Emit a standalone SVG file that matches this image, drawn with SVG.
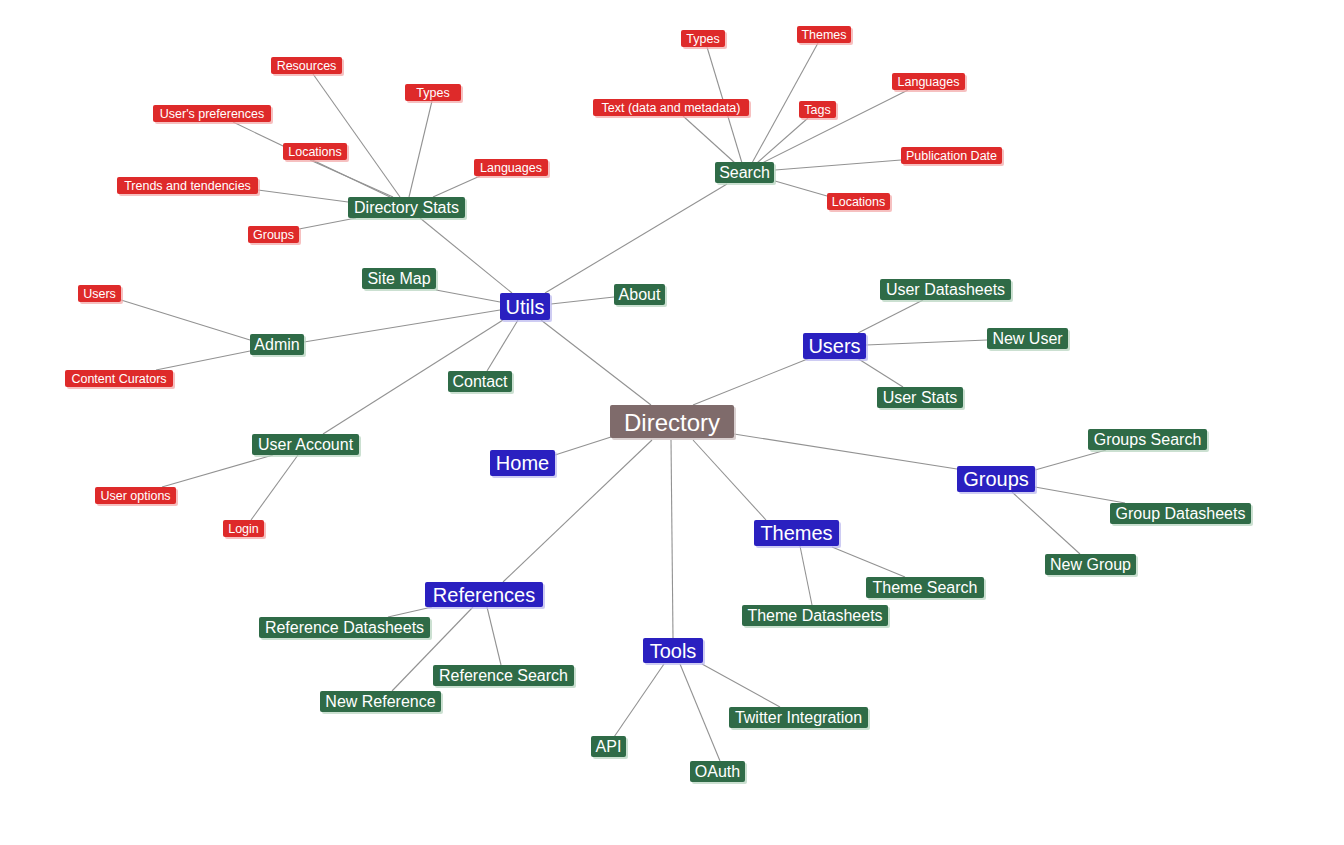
<svg xmlns="http://www.w3.org/2000/svg" width="1344" height="845" viewBox="0 0 1344 845">
<style>
text{font-family:"Liberation Sans",Arial,sans-serif;fill:#fff;text-anchor:middle;dominant-baseline:central}
.sh{opacity:.7}
.root rect.b{fill:#7f6b6b}.root rect.sh{fill:#c9bcbc}.root text{font-size:24px}
.l1 rect.b{fill:#2a20c0}.l1 rect.sh{fill:#b9b6ee}.l1 text{font-size:20px}
.l2 rect.b{fill:#2f6b47}.l2 rect.sh{fill:#b5d3bd}.l2 text{font-size:16px}
.l3 rect.b{fill:#de2a2a}.l3 rect.sh{fill:#f2a5a5}.l3 text{font-size:12.5px}
#connectors line{stroke:#929292;stroke-width:1.1}
</style>
<rect width="1344" height="845" fill="#fff"/>
<g id="connectors">
<line x1="651" y1="405" x2="541" y2="320"/>
<line x1="693" y1="405" x2="810" y2="358"/>
<line x1="611" y1="437" x2="555" y2="455"/>
<line x1="734" y1="434" x2="957" y2="469"/>
<line x1="693" y1="440" x2="766" y2="520"/>
<line x1="671" y1="440" x2="673" y2="638"/>
<line x1="652" y1="440" x2="503" y2="582"/>
<line x1="420" y1="218" x2="512" y2="293"/>
<line x1="727" y1="184" x2="545" y2="293"/>
<line x1="436" y1="290" x2="500" y2="302"/>
<line x1="551" y1="304" x2="614" y2="297"/>
<line x1="304" y1="342" x2="500" y2="310"/>
<line x1="323" y1="434" x2="503" y2="320"/>
<line x1="487" y1="371" x2="518" y2="320"/>
<line x1="313" y1="74" x2="400" y2="197"/>
<line x1="432" y1="101" x2="409" y2="197"/>
<line x1="233" y1="122" x2="390" y2="197"/>
<line x1="310" y1="160" x2="393" y2="197"/>
<line x1="258" y1="190" x2="348" y2="202"/>
<line x1="299" y1="229" x2="356" y2="218"/>
<line x1="480" y1="176" x2="433" y2="197"/>
<line x1="121" y1="300" x2="250" y2="340"/>
<line x1="156" y1="370" x2="250" y2="351"/>
<line x1="162" y1="487" x2="273" y2="455"/>
<line x1="251" y1="520" x2="298" y2="455"/>
<line x1="707" y1="47" x2="742" y2="163"/>
<line x1="818" y1="43" x2="752" y2="163"/>
<line x1="683" y1="116" x2="735" y2="163"/>
<line x1="808" y1="118" x2="757" y2="163"/>
<line x1="908" y1="90" x2="762" y2="163"/>
<line x1="901" y1="160" x2="775" y2="170"/>
<line x1="827" y1="196" x2="775" y2="181"/>
<line x1="923" y1="300" x2="858" y2="333"/>
<line x1="987" y1="340" x2="866" y2="345"/>
<line x1="903" y1="387" x2="857" y2="358"/>
<line x1="1106" y1="450" x2="1035" y2="470"/>
<line x1="1125" y1="503" x2="1035" y2="487"/>
<line x1="1080" y1="554" x2="1012" y2="492"/>
<line x1="905" y1="577" x2="832" y2="547"/>
<line x1="812" y1="605" x2="800" y2="546"/>
<line x1="388" y1="617" x2="432" y2="607"/>
<line x1="392" y1="691" x2="473" y2="607"/>
<line x1="501" y1="665" x2="487" y2="607"/>
<line x1="614" y1="737" x2="664" y2="664"/>
<line x1="720" y1="761" x2="680" y2="664"/>
<line x1="780" y1="707" x2="702" y2="664"/>
</g>

<g id="directory" class="root"><rect class="sh" x="612" y="407" width="124" height="33" rx="2"/><rect class="b" x="610" y="405" width="124" height="33" rx="2"/><text x="672" y="422">Directory</text></g>

<g id="utils" class="l1"><rect class="sh" x="502" y="295" width="50" height="27" rx="2"/><rect class="b" x="500" y="293" width="50" height="27" rx="2"/><text x="525" y="306.5">Utils</text></g>
<g id="users" class="l1"><rect class="sh" x="805" y="335" width="63" height="26" rx="2"/><rect class="b" x="803" y="333" width="63" height="26" rx="2"/><text x="834.5" y="346">Users</text></g>
<g id="home" class="l1"><rect class="sh" x="492" y="452" width="65" height="26" rx="2"/><rect class="b" x="490" y="450" width="65" height="26" rx="2"/><text x="522.5" y="463">Home</text></g>
<g id="groups" class="l1"><rect class="sh" x="959" y="468" width="78" height="26" rx="2"/><rect class="b" x="957" y="466" width="78" height="26" rx="2"/><text x="996" y="479">Groups</text></g>
<g id="themes" class="l1"><rect class="sh" x="756" y="522" width="85" height="26" rx="2"/><rect class="b" x="754" y="520" width="85" height="26" rx="2"/><text x="796.5" y="533">Themes</text></g>
<g id="references" class="l1"><rect class="sh" x="427" y="584" width="118" height="25" rx="2"/><rect class="b" x="425" y="582" width="118" height="25" rx="2"/><text x="484" y="594.5">References</text></g>
<g id="tools" class="l1"><rect class="sh" x="645" y="640" width="60" height="25" rx="2"/><rect class="b" x="643" y="638" width="60" height="25" rx="2"/><text x="673" y="650.5">Tools</text></g>

<g id="directory-stats" class="l2"><rect class="sh" x="350" y="199" width="117" height="21" rx="2"/><rect class="b" x="348" y="197" width="117" height="21" rx="2"/><text x="406.5" y="207.5">Directory Stats</text></g>
<g id="search" class="l2"><rect class="sh" x="717" y="164" width="59" height="21" rx="2"/><rect class="b" x="715" y="162" width="59" height="21" rx="2"/><text x="744.5" y="172.5">Search</text></g>
<g id="site-map" class="l2"><rect class="sh" x="364" y="270" width="74" height="21" rx="2"/><rect class="b" x="362" y="268" width="74" height="21" rx="2"/><text x="399" y="278.5">Site Map</text></g>
<g id="about" class="l2"><rect class="sh" x="616" y="286" width="51" height="21" rx="2"/><rect class="b" x="614" y="284" width="51" height="21" rx="2"/><text x="639.5" y="294.5">About</text></g>
<g id="admin" class="l2"><rect class="sh" x="252" y="336" width="54" height="21" rx="2"/><rect class="b" x="250" y="334" width="54" height="21" rx="2"/><text x="277" y="344.5">Admin</text></g>
<g id="contact" class="l2"><rect class="sh" x="450" y="373" width="64" height="21" rx="2"/><rect class="b" x="448" y="371" width="64" height="21" rx="2"/><text x="480" y="381.5">Contact</text></g>
<g id="user-account" class="l2"><rect class="sh" x="254" y="436" width="107" height="21" rx="2"/><rect class="b" x="252" y="434" width="107" height="21" rx="2"/><text x="305.5" y="444.5">User Account</text></g>
<g id="user-datasheets" class="l2"><rect class="sh" x="882" y="281" width="131" height="21" rx="2"/><rect class="b" x="880" y="279" width="131" height="21" rx="2"/><text x="945.5" y="289.5">User Datasheets</text></g>
<g id="new-user" class="l2"><rect class="sh" x="989" y="330" width="81" height="21" rx="2"/><rect class="b" x="987" y="328" width="81" height="21" rx="2"/><text x="1027.5" y="338.5">New User</text></g>
<g id="user-stats" class="l2"><rect class="sh" x="879" y="389" width="86" height="21" rx="2"/><rect class="b" x="877" y="387" width="86" height="21" rx="2"/><text x="920" y="397.5">User Stats</text></g>
<g id="groups-search" class="l2"><rect class="sh" x="1090" y="431" width="119" height="21" rx="2"/><rect class="b" x="1088" y="429" width="119" height="21" rx="2"/><text x="1147.5" y="439.5">Groups Search</text></g>
<g id="group-datasheets" class="l2"><rect class="sh" x="1112" y="505" width="141" height="21" rx="2"/><rect class="b" x="1110" y="503" width="141" height="21" rx="2"/><text x="1180.5" y="513.5">Group Datasheets</text></g>
<g id="new-group" class="l2"><rect class="sh" x="1047" y="556" width="91" height="21" rx="2"/><rect class="b" x="1045" y="554" width="91" height="21" rx="2"/><text x="1090.5" y="564.5">New Group</text></g>
<g id="theme-search" class="l2"><rect class="sh" x="868" y="579" width="118" height="21" rx="2"/><rect class="b" x="866" y="577" width="118" height="21" rx="2"/><text x="925" y="587.5">Theme Search</text></g>
<g id="theme-datasheets" class="l2"><rect class="sh" x="744" y="607" width="146" height="21" rx="2"/><rect class="b" x="742" y="605" width="146" height="21" rx="2"/><text x="815" y="615.5">Theme Datasheets</text></g>
<g id="reference-datasheets" class="l2"><rect class="sh" x="261" y="619" width="171" height="21" rx="2"/><rect class="b" x="259" y="617" width="171" height="21" rx="2"/><text x="344.5" y="627.5">Reference Datasheets</text></g>
<g id="reference-search" class="l2"><rect class="sh" x="435" y="667" width="141" height="21" rx="2"/><rect class="b" x="433" y="665" width="141" height="21" rx="2"/><text x="503.5" y="675.5">Reference Search</text></g>
<g id="new-reference" class="l2"><rect class="sh" x="322" y="693" width="121" height="21" rx="2"/><rect class="b" x="320" y="691" width="121" height="21" rx="2"/><text x="380.5" y="701.5">New Reference</text></g>
<g id="twitter-integration" class="l2"><rect class="sh" x="731" y="709" width="139" height="21" rx="2"/><rect class="b" x="729" y="707" width="139" height="21" rx="2"/><text x="798.5" y="717.5">Twitter Integration</text></g>
<g id="api" class="l2"><rect class="sh" x="593" y="738" width="35" height="21" rx="2"/><rect class="b" x="591" y="736" width="35" height="21" rx="2"/><text x="608.5" y="746.5">API</text></g>
<g id="oauth" class="l2"><rect class="sh" x="692" y="763" width="55" height="21" rx="2"/><rect class="b" x="690" y="761" width="55" height="21" rx="2"/><text x="717.5" y="771.5">OAuth</text></g>

<g id="resources" class="l3"><rect class="sh" x="273" y="59" width="71" height="17" rx="2"/><rect class="b" x="271" y="57" width="71" height="17" rx="2"/><text x="306.5" y="65.5">Resources</text></g>
<g id="stats-types" class="l3"><rect class="sh" x="407" y="86" width="56" height="17" rx="2"/><rect class="b" x="405" y="84" width="56" height="17" rx="2"/><text x="433" y="92.5">Types</text></g>
<g id="users-preferences" class="l3"><rect class="sh" x="155" y="107" width="118" height="17" rx="2"/><rect class="b" x="153" y="105" width="118" height="17" rx="2"/><text x="212" y="113.5">User's preferences</text></g>
<g id="stats-locations" class="l3"><rect class="sh" x="285" y="145" width="64" height="17" rx="2"/><rect class="b" x="283" y="143" width="64" height="17" rx="2"/><text x="315" y="151.5">Locations</text></g>
<g id="stats-languages" class="l3"><rect class="sh" x="476" y="161" width="74" height="17" rx="2"/><rect class="b" x="474" y="159" width="74" height="17" rx="2"/><text x="511" y="167.5">Languages</text></g>
<g id="trends" class="l3"><rect class="sh" x="119" y="179" width="141" height="17" rx="2"/><rect class="b" x="117" y="177" width="141" height="17" rx="2"/><text x="187.5" y="185.5">Trends and tendencies</text></g>
<g id="stats-groups" class="l3"><rect class="sh" x="250" y="228" width="51" height="17" rx="2"/><rect class="b" x="248" y="226" width="51" height="17" rx="2"/><text x="273.5" y="234.5">Groups</text></g>
<g id="admin-users" class="l3"><rect class="sh" x="80" y="287" width="43" height="17" rx="2"/><rect class="b" x="78" y="285" width="43" height="17" rx="2"/><text x="99.5" y="293.5">Users</text></g>
<g id="content-curators" class="l3"><rect class="sh" x="67" y="372" width="108" height="17" rx="2"/><rect class="b" x="65" y="370" width="108" height="17" rx="2"/><text x="119" y="378.5">Content Curators</text></g>
<g id="user-options" class="l3"><rect class="sh" x="97" y="489" width="81" height="17" rx="2"/><rect class="b" x="95" y="487" width="81" height="17" rx="2"/><text x="135.5" y="495.5">User options</text></g>
<g id="login" class="l3"><rect class="sh" x="225" y="522" width="41" height="17" rx="2"/><rect class="b" x="223" y="520" width="41" height="17" rx="2"/><text x="243.5" y="528.5">Login</text></g>
<g id="search-types" class="l3"><rect class="sh" x="683" y="32" width="44" height="17" rx="2"/><rect class="b" x="681" y="30" width="44" height="17" rx="2"/><text x="703" y="38.5">Types</text></g>
<g id="search-themes" class="l3"><rect class="sh" x="799" y="28" width="54" height="17" rx="2"/><rect class="b" x="797" y="26" width="54" height="17" rx="2"/><text x="824" y="34.5">Themes</text></g>
<g id="text-data" class="l3"><rect class="sh" x="595" y="101" width="156" height="17" rx="2"/><rect class="b" x="593" y="99" width="156" height="17" rx="2"/><text x="671" y="107.5">Text (data and metadata)</text></g>
<g id="tags" class="l3"><rect class="sh" x="801" y="103" width="37" height="17" rx="2"/><rect class="b" x="799" y="101" width="37" height="17" rx="2"/><text x="817.5" y="109.5">Tags</text></g>
<g id="search-languages" class="l3"><rect class="sh" x="894" y="75" width="73" height="17" rx="2"/><rect class="b" x="892" y="73" width="73" height="17" rx="2"/><text x="928.5" y="81.5">Languages</text></g>
<g id="publication-date" class="l3"><rect class="sh" x="903" y="149" width="101" height="17" rx="2"/><rect class="b" x="901" y="147" width="101" height="17" rx="2"/><text x="951.5" y="155.5">Publication Date</text></g>
<g id="search-locations" class="l3"><rect class="sh" x="829" y="195" width="63" height="17" rx="2"/><rect class="b" x="827" y="193" width="63" height="17" rx="2"/><text x="858.5" y="201.5">Locations</text></g>
</svg>
